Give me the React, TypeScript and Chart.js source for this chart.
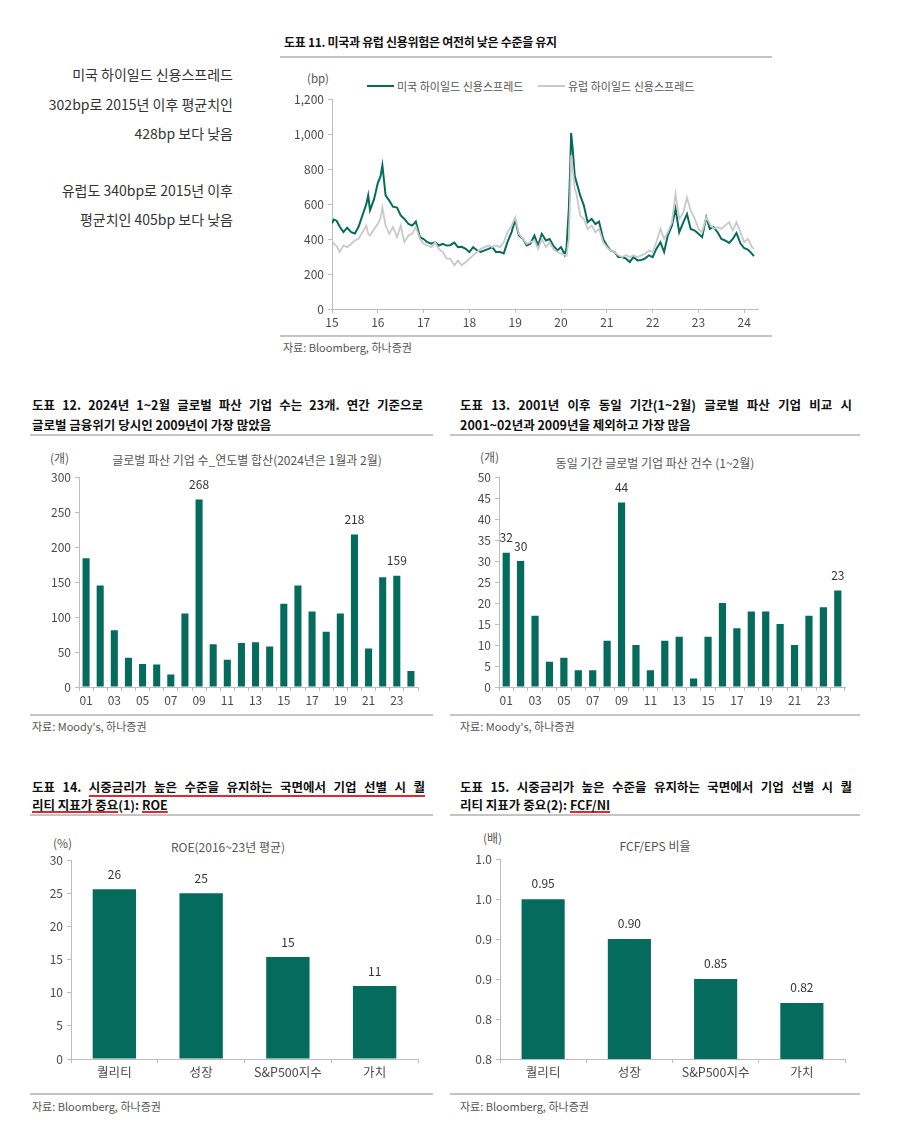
import React, { useEffect, useRef } from 'react';
import { Chart, registerables } from 'chart.js';
Chart.register(...registerables);

const FONT = '"Noto Sans CJK KR", "Noto Sans", sans-serif';
Chart.defaults.font.family = FONT;

const GREEN = '#046b5d';
const EU_GRAY = '#c9c9c9';
const AXIS = '#bdbdbd';
const TICK_TXT = '#4a4a4a';

// ---------- 도표 11: 하이일드 신용스프레드 (bp) ----------
const spreadDates = [
  2015.00, 2015.04, 2015.10, 2015.17, 2015.25, 2015.33, 2015.42, 2015.50, 2015.58, 2015.67, 2015.75, 2015.79, 2015.83, 2015.92,
  2016.00, 2016.06, 2016.10, 2016.17, 2016.25, 2016.33, 2016.42, 2016.50, 2016.58, 2016.67, 2016.75, 2016.83, 2016.92,
  2017.00, 2017.08, 2017.17, 2017.25, 2017.33, 2017.42, 2017.50, 2017.58, 2017.67, 2017.75, 2017.83, 2017.92,
  2018.00, 2018.08, 2018.17, 2018.25, 2018.33, 2018.42, 2018.50, 2018.58, 2018.67, 2018.75, 2018.83, 2018.92,
  2019.00, 2019.08, 2019.17, 2019.25, 2019.33, 2019.42, 2019.50, 2019.58, 2019.67, 2019.75, 2019.83, 2019.92,
  2020.00, 2020.08, 2020.12, 2020.17, 2020.20, 2020.22, 2020.25, 2020.30, 2020.33, 2020.42, 2020.50, 2020.58, 2020.67, 2020.75, 2020.83, 2020.92,
  2021.00, 2021.08, 2021.17, 2021.25, 2021.33, 2021.42, 2021.50, 2021.58, 2021.67, 2021.75, 2021.83, 2021.92,
  2022.00, 2022.08, 2022.17, 2022.25, 2022.33, 2022.42, 2022.50, 2022.58, 2022.67, 2022.75, 2022.83, 2022.92,
  2023.00, 2023.08, 2023.17, 2023.25, 2023.33, 2023.42, 2023.50, 2023.58, 2023.67, 2023.75, 2023.83, 2023.92,
  2024.00, 2024.08, 2024.17, 2024.21,
];
const usHighYield = [
  490, 512, 505, 470, 440, 465, 440, 432, 470, 540, 600, 650, 565, 630,
  720, 760, 822, 650, 620, 585, 580, 535, 515, 486, 477, 500, 411,
  400, 382, 373, 382, 363, 373, 363, 365, 380, 354, 356, 344,
  326, 354, 335, 326, 335, 344, 354, 326, 326, 318, 382, 440,
  510, 420, 400, 363, 373, 420, 363, 430, 392, 400, 363, 335,
  354, 310, 350, 572, 800, 1007, 930, 760, 733, 648, 591, 496, 515, 486, 500, 401,
  363, 335, 326, 297, 297, 288, 269, 297, 278, 280, 288, 307,
  297, 344, 382, 326, 420, 477, 572, 439, 496, 543, 458, 449,
  430, 411, 524, 458, 468, 439, 401, 392, 378, 401, 435, 373,
  348, 340, 315, 302,
];
const euHighYield = [
  392, 373, 360, 326, 363, 354, 373, 392, 401, 440, 477, 430, 420, 458,
  486, 520, 581, 477, 430, 468, 411, 477, 382, 420, 430, 470, 401,
  373, 363, 354, 382, 344, 326, 288, 288, 250, 278, 250, 269,
  288, 307, 326, 344, 354, 363, 354, 363, 354, 382, 439, 477,
  524, 430, 401, 373, 382, 392, 344, 401, 354, 382, 344, 326,
  316, 310, 305, 401, 650, 880, 818, 685, 666, 534, 515, 458, 477, 439, 458, 382,
  354, 335, 326, 307, 297, 307, 297, 307, 297, 307, 316, 335,
  326, 382, 458, 401, 439, 496, 657, 515, 553, 638, 562, 515,
  458, 439, 524, 486, 458, 468, 458, 477, 496, 449, 496, 439,
  382, 401, 354, 344,
];
const spreadLegend = ['미국 하이일드 신용스프레드', '유럽 하이일드 신용스프레드'];

// ---------- 도표 12 / 13: 글로벌 파산 기업 수 ----------
const bankruptcyYears = ['01', '02', '03', '04', '05', '06', '07', '08', '09', '10', '11', '12',
  '13', '14', '15', '16', '17', '18', '19', '20', '21', '22', '23', '24'];
const annualBankruptcies = [184, 145, 81, 42, 33, 32, 18, 105, 268, 61, 39, 63, 64, 58, 119, 145, 108, 79, 105, 218, 55, 157, 159, 23];
const annualLabelIdx = [8, 19, 22];
const janFebBankruptcies = [32, 30, 17, 6, 7, 4, 4, 11, 44, 10, 4, 11, 12, 2, 12, 20, 14, 18, 18, 15, 10, 17, 19, 23];
const janFebLabelIdx = [0, 1, 8, 23];

// ---------- 도표 14 / 15: 퀄리티 지표 ----------
const factorNames = ['퀄리티', '성장', 'S&P500지수', '가치'];
const roeAvg = [25.6, 25.0, 15.4, 11.0];
const fcfRatio = [0.95, 0.90, 0.85, 0.82];

// ---------- helpers ----------
const barLabels = {
  id: 'barLabels',
  afterDatasetsDraw(chart: any, _args: any, opts: any) {
    if (!opts || !opts.indices) return;
    const ctx = chart.ctx;
    const meta = chart.getDatasetMeta(0);
    const data = chart.data.datasets[0].data;
    ctx.save();
    ctx.font = `${opts.size || 12}px ${FONT}`;
    ctx.fillStyle = '#333';
    ctx.textAlign = 'center';
    ctx.textBaseline = 'middle';
    opts.indices.forEach((i: number) => {
      const el = meta.data[i];
      ctx.fillText(opts.format(data[i]), el.x, el.y - (opts.gap || 15));
    });
    ctx.restore();
  },
};

function yAxis(min: number, max: number, step: number, width: number, cb?: (v: number) => string) {
  return {
    min, max,
    ticks: {
      stepSize: step, color: TICK_TXT, padding: 4,
      font: { size: 12, family: FONT },
      callback: cb || ((v: number) => String(v)),
    },
    grid: { drawOnChartArea: false, drawTicks: true, tickLength: 4, color: AXIS },
    border: { color: AXIS },
    afterFit: (s: any) => { s.width = width; },
  };
}

function catAxis(height: number, size: number, labelCb?: (v: any, i: number) => string) {
  return {
    ticks: {
      color: TICK_TXT, padding: 2, autoSkip: false, maxRotation: 0,
      font: { size, family: FONT },
      ...(labelCb ? { callback: labelCb } : {}),
    },
    grid: { drawOnChartArea: false, drawTicks: true, tickLength: 4, color: AXIS, offset: true },
    border: { color: AXIS },
    afterFit: (s: any) => { s.height = height; },
  };
}

function ChartCanvas({ left, top, width, height, make }: any) {
  const ref = useRef<HTMLCanvasElement>(null);
  useEffect(() => {
    const chart = new Chart(ref.current as HTMLCanvasElement, make());
    return () => chart.destroy();
  }, []);
  return (
    <canvas ref={ref} width={width} height={height}
      style={{ position: 'absolute', left, top, width, height }} />
  );
}

function Txt({ x, y, w = 400, align = 'left', size = 12, color = '#444', bold = false, children, style = {} }: any) {
  const lh = Math.round(size * 1.5);
  let left = x;
  if (align === 'right') left = x - w;
  else if (align === 'center') left = x - w / 2;
  return (
    <div style={{
      position: 'absolute', left, top: y - lh / 2, width: w, height: lh, lineHeight: lh + 'px',
      fontSize: size, color, fontWeight: bold ? 700 : 400, textAlign: align, whiteSpace: 'nowrap', ...style,
    }}>{children}</div>
  );
}

function Head({ x, y, w, last = false, children }: any) {
  const lh = 18;
  return (
    <div style={{
      position: 'absolute', left: x, top: y - lh / 2, width: w, height: lh, lineHeight: lh + 'px',
      fontSize: 12.5, fontWeight: 700, color: '#111', textAlign: last ? 'left' : 'justify',
      textAlignLast: last ? 'left' : 'justify', whiteSpace: 'normal', overflow: 'visible', zIndex: 2,
    } as any}>{children}</div>
  );
}

function Rule({ x, y, w }: any) {
  return <div style={{ position: 'absolute', left: x, top: y - 1, width: w, height: 2, background: '#c4c4c4', zIndex: 1 }} />;
}

const RED = { textDecoration: 'underline', textDecorationColor: '#e0282e', textDecorationThickness: '2px', textUnderlineOffset: '3px' };
const RED2 = { ...RED, textUnderlineOffset: '1px' };

// ---------- chart configs ----------
const makeSpread = () => ({
  type: 'line',
  data: {
    datasets: [
      {
        label: spreadLegend[1],
        data: spreadDates.map((x, i) => ({ x, y: euHighYield[i] })),
        borderColor: EU_GRAY, borderWidth: 1.8, pointRadius: 0, tension: 0,
      },
      {
        label: spreadLegend[0],
        data: spreadDates.map((x, i) => ({ x, y: usHighYield[i] })),
        borderColor: GREEN, borderWidth: 2, pointRadius: 0, tension: 0,
      },
    ],
  },
  options: {
    responsive: false, animation: false,
    layout: { padding: { top: 10, right: 12, left: 0, bottom: 0 } },
    plugins: { legend: { display: false }, tooltip: { enabled: false } },
    scales: {
      x: {
        type: 'linear', min: 2015, max: 2024.3,
        ticks: {
          stepSize: 1, includeBounds: false, color: TICK_TXT, padding: 2,
          font: { size: 12, family: FONT },
          callback: (v: number) => String(Math.round(v) % 100).padStart(2, '0'),
        },
        grid: { drawOnChartArea: false, drawTicks: true, tickLength: 4, color: AXIS },
        border: { color: AXIS },
        afterFit: (s: any) => { s.height = 26; },
      },
      y: yAxis(0, 1200, 200, 52, (v: number) => v.toLocaleString('en-US')),
    },
  },
});

const makeBars = (values: number[], labels: string[], yMin: number, yMax: number, step: number,
  yw: number, xh: number, xSize: number, idx: number[], fmt: (v: number) => string,
  pr: number, oddOnly: boolean, right: number, tickCb?: (v: number) => string, gap = 15) => ({
  type: 'bar',
  data: {
    labels,
    datasets: [{ data: values, backgroundColor: GREEN, categoryPercentage: 1, barPercentage: pr }],
  },
  plugins: [barLabels],
  options: {
    responsive: false, animation: false,
    layout: { padding: { top: 10, right, left: 0, bottom: 0 } },
    plugins: {
      legend: { display: false }, tooltip: { enabled: false },
      barLabels: { indices: idx, format: fmt, size: 12, gap },
    },
    scales: {
      x: catAxis(xh, xSize, oddOnly ? ((_v: any, i: number) => (i % 2 === 0 ? labels[i] : '')) : undefined),
      y: yAxis(yMin, yMax, step, yw, tickCb),
    },
  },
});

const LEFT_NOTE = { size: 14, color: '#333', w: 232, align: 'right' };

export default function App() {
  return (
    <div style={{ position: 'absolute', left: 0, top: 0, width: 900, height: 1148, background: '#fff', fontFamily: FONT, overflow: 'hidden' }}>
      {/* 좌측 코멘트 */}
      <Txt x={233} y={74} {...LEFT_NOTE}>미국 하이일드 신용스프레드</Txt>
      <Txt x={233} y={104} {...LEFT_NOTE}>302bp로 2015년 이후 평균치인</Txt>
      <Txt x={233} y={133} {...LEFT_NOTE}>428bp 보다 낮음</Txt>
      <Txt x={233} y={190} {...LEFT_NOTE}>유럽도 340bp로 2015년 이후</Txt>
      <Txt x={233} y={219} {...LEFT_NOTE}>평균치인 405bp 보다 낮음</Txt>

      {/* 도표 11 */}
      <Txt x={284} y={42} w={490} size={12} bold color="#111" style={{ letterSpacing: '-0.3px' }}>도표 11. 미국과 유럽 신용위험은 여전히 낮은 수준을 유지</Txt>
      <Rule x={280} y={57} w={492} />
      <Txt x={307} y={78} w={40} size={11.5} color="#555">(bp)</Txt>
      <div style={{ position: 'absolute', left: 367, top: 85, width: 27, height: 2, background: GREEN }} />
      <Txt x={397} y={86} w={140} size={11} color="#555">{spreadLegend[0]}</Txt>
      <div style={{ position: 'absolute', left: 538, top: 85, width: 27, height: 2, background: EU_GRAY }} />
      <Txt x={568} y={86} w={140} size={11} color="#555">{spreadLegend[1]}</Txt>
      <ChartCanvas left={280} top={88} width={490} height={247} make={makeSpread} />
      <Rule x={280} y={336} w={492} />
      <Txt x={283} y={347} w={200} size={11} color="#555">자료: Bloomberg, 하나증권</Txt>

      {/* 도표 12 */}
      <Rule x={30} y={435} w={403} />
      <Head x={32} y={405} w={391}>도표 12. 2024년 1~2월 글로벌 파산 기업 수는 23개. 연간 기준으로</Head>
      <Head x={32} y={425} w={391} last>글로벌 금융위기 당시인 2009년이 가장 많았음</Head>
      <Txt x={50} y={458} w={30} size={12} color="#555">(개)</Txt>
      <Txt x={247} y={460} w={320} align="center" size={12} color="#555">글로벌 파산 기업 수_연도별 합산(2024년은 1월과 2월)</Txt>
      <ChartCanvas left={30} top={466} width={400} height={249}
        make={() => makeBars(annualBankruptcies, bankruptcyYears, 0, 300, 50, 49, 28, 12, annualLabelIdx,
          (v) => String(v), 0.5, true, 12)} />
      <Rule x={30} y={715} w={403} />
      <Txt x={32} y={726} w={200} size={11} color="#555">자료: Moody's, 하나증권</Txt>

      {/* 도표 13 */}
      <Rule x={450} y={435} w={410} />
      <Head x={460} y={405} w={392}>도표 13. 2001년 이후 동일 기간(1~2월) 글로벌 파산 기업 비교 시</Head>
      <Head x={460} y={425} w={392} last>2001~02년과 2009년을 제외하고 가장 많음</Head>
      <Txt x={480} y={457} w={30} size={12} color="#555">(개)</Txt>
      <Txt x={655} y={463} w={260} align="center" size={12} color="#555">동일 기간 글로벌 기업 파산 건수 (1~2월)</Txt>
      <ChartCanvas left={450} top={466} width={410} height={249}
        make={() => makeBars(janFebBankruptcies, bankruptcyYears, 0, 50, 5, 49, 28, 12, janFebLabelIdx,
          (v) => String(v), 0.5, true, 15)} />
      <Rule x={450} y={715} w={410} />
      <Txt x={460} y={726} w={200} size={11} color="#555">자료: Moody's, 하나증권</Txt>

      {/* 도표 14 */}
      <Rule x={30} y={815} w={403} />
      <Head x={32} y={787} w={393}>도표 14. <span style={RED}>시중금리가 높은 수준을 유지하는 국면에서 기업 선별 시 퀄</span></Head>
      <Head x={32} y={805} w={393} last><span style={RED2}>리티 지표가 중요</span>(1): <span style={RED2}>ROE</span></Head>
      <Txt x={53} y={843} w={30} size={12} color="#555">(%)</Txt>
      <Txt x={228} y={847} w={200} align="center" size={12} color="#555">ROE(2016~23년 평균)</Txt>
      <ChartCanvas left={30} top={849} width={400} height={245}
        make={() => makeBars(roeAvg, factorNames, 0, 30, 5, 41, 35, 12.5, [0, 1, 2, 3],
          (v) => String(Math.round(v)), 0.5, false, 12)} />
      <Rule x={30} y={1094} w={403} />
      <Txt x={32} y={1106} w={200} size={11} color="#555">자료: Bloomberg, 하나증권</Txt>

      {/* 도표 15 */}
      <Rule x={450} y={815} w={410} />
      <Head x={460} y={787} w={392}>도표 15. 시중금리가 높은 수준을 유지하는 국면에서 기업 선별 시 퀄</Head>
      <Head x={460} y={805} w={392} last>리티 지표가 중요(2): <span style={RED2}>FCF/NI</span></Head>
      <Txt x={483} y={838} w={30} size={12} color="#555">(배)</Txt>
      <Txt x={655} y={846} w={200} align="center" size={12} color="#555">FCF/EPS 비율</Txt>
      <ChartCanvas left={450} top={848} width={410} height={246}
        make={() => makeBars(fcfRatio, factorNames, 0.75, 1.0, 0.05, 50, 35, 12.5, [0, 1, 2, 3],
          (v) => v.toFixed(2), 0.5, false, 15, (v: number) => (Math.round(v * 10 + 1e-9) / 10).toFixed(1), 16)} />
      <Rule x={450} y={1094} w={410} />
      <Txt x={460} y={1106} w={200} size={11} color="#555">자료: Bloomberg, 하나증권</Txt>
    </div>
  );
}
